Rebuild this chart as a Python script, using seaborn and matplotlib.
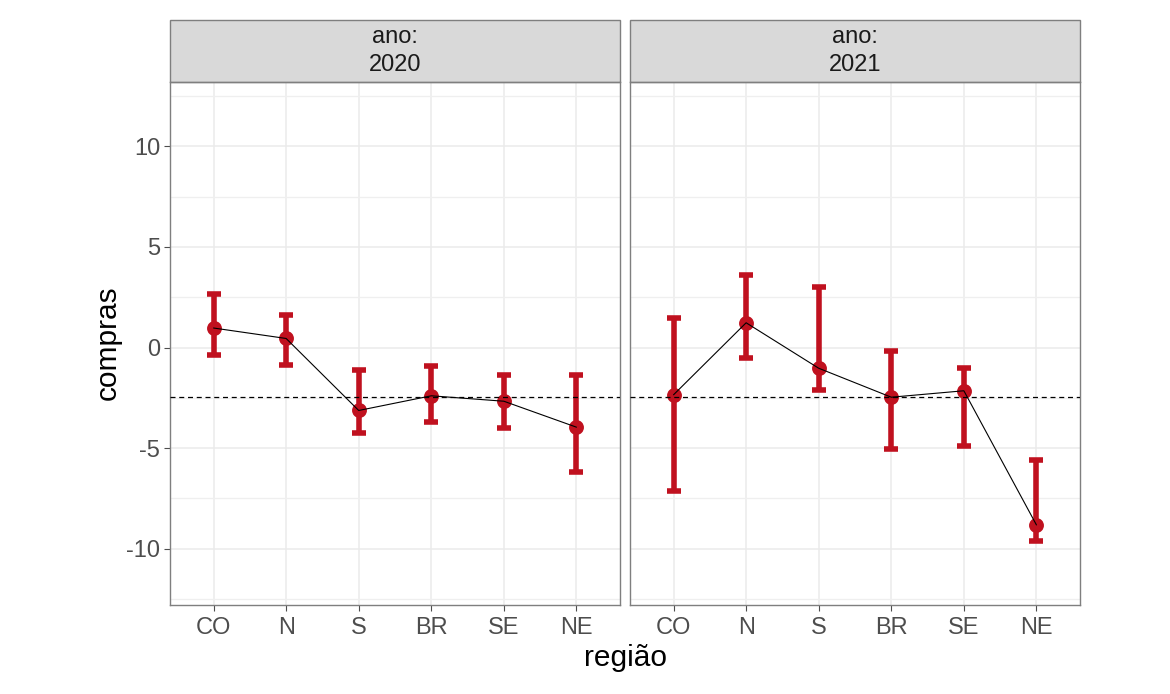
import numpy as np
import pandas as pd
import matplotlib
matplotlib.use("Agg")
import matplotlib.pyplot as plt
from matplotlib.patches import Rectangle
from matplotlib.ticker import MultipleLocator
import seaborn as sns

# dados
regioes = ['CO', 'N', 'S', 'BR', 'SE', 'NE']
anos = ['2020', '2021']
media_2020 = [0.97, 0.45, -3.13, -2.40, -2.67, -3.96]
inf_2020 = [-0.36, -0.88, -4.24, -3.71, -3.98, -6.18]
sup_2020 = [2.65, 1.63, -1.11, -0.94, -1.37, -1.36]
media_2021 = [-2.35, 1.23, -1.03, -2.47, -2.15, -8.82]
inf_2021 = [-7.11, -0.50, -2.10, -5.05, -4.88, -9.60]
sup_2021 = [1.46, 3.60, 3.00, -0.15, -1.00, -5.60]
referencia = -2.44
y_ticks = [-10, -5, 0, 5, 10]

df = pd.concat([
    pd.DataFrame({'ano': '2020', 'regiao': regioes, 'compras': media_2020,
                  'inf': inf_2020, 'sup': sup_2020}),
    pd.DataFrame({'ano': '2021', 'regiao': regioes, 'compras': media_2021,
                  'inf': inf_2021, 'sup': sup_2021}),
], ignore_index=True)
df['pos'] = df['regiao'].map({r: i for i, r in enumerate(regioes)})

sns.set_theme(style='white')
plt.rcParams['font.family'] = ['Liberation Sans', 'DejaVu Sans']

vermelho = '#C0111F'
borda = '#7F7F7F'

fig, axes = plt.subplots(1, 2, figsize=(11.7, 6.94), dpi=100, sharey=True)
fig.subplots_adjust(left=170/1170, right=1080/1170, top=1-82/694,
                    bottom=1-605/694, wspace=10/450)

for ax, ano in zip(axes, anos):
    d = df[df['ano'] == ano]
    ax.set_axisbelow(True)
    ax.errorbar(d['pos'], d['compras'],
                yerr=[d['compras'] - d['inf'], d['sup'] - d['compras']],
                fmt='none', ecolor=vermelho, elinewidth=4.0, capsize=5,
                capthick=4.0, zorder=2)
    sns.scatterplot(data=d, x='pos', y='compras', ax=ax, color=vermelho,
                    s=115, edgecolor=vermelho, linewidth=0, zorder=3)
    sns.lineplot(data=d, x='pos', y='compras', ax=ax, color='black',
                 lw=0.8, zorder=4)
    ax.axhline(referencia, color='black', lw=0.9, ls=(0, (4, 3)), zorder=5)

    ax.set_xlim(-0.6, len(regioes) - 0.4)
    ax.set_ylim(-12.8, 13.2)
    ax.set_xticks(range(len(regioes)))
    ax.set_xticklabels(regioes)
    ax.set_yticks(y_ticks)
    ax.set_yticklabels([str(v) for v in y_ticks])
    ax.yaxis.set_minor_locator(MultipleLocator(2.5))
    ax.grid(which='major', color='#EBEBEB', lw=1.1)
    ax.grid(which='minor', axis='y', color='#EFEFEF', lw=0.9)
    ax.tick_params(axis='both', which='major', length=4, width=0.8,
                   color='#4D4D4D', labelcolor='#4D4D4D', labelsize=17,
                   pad=3, bottom=True, left=(ax is axes[0]))
    ax.tick_params(axis='x', pad=5)
    ax.tick_params(which='minor', length=0)
    ax.set_xlabel('')
    ax.set_ylabel('')
    for s in ax.spines.values():
        s.set_color(borda)
        s.set_linewidth(1.0)

    # faixa do painel (estilo facet)
    h = 62 / 523
    ax.add_patch(Rectangle((0, 1), 1, h, transform=ax.transAxes,
                           facecolor='#D9D9D9', edgecolor=borda, lw=1.0,
                           clip_on=False))
    ax.text(0.5, 1 + h / 2, f'ano:\n{ano}', transform=ax.transAxes,
            ha='center', va='center', fontsize=17, color='#1A1A1A',
            linespacing=1.3)

fig.text(625/1170, 1 - 658/694, 'região', ha='center', va='center',
         fontsize=21.5, color='black')
fig.text(108/1170, 1 - 343/694, 'compras', ha='center', va='center',
         rotation=90, fontsize=21.5, color='black')

fig.savefig('out.png', dpi=100)
